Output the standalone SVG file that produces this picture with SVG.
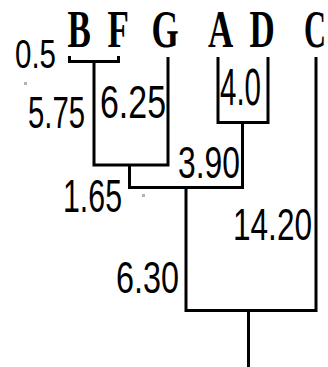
<svg xmlns="http://www.w3.org/2000/svg" width="328" height="367" viewBox="0 0 328 367">
  <style>
    .leaf { font-family: "Liberation Serif", "Times New Roman", serif; font-weight: bold; font-size: 35px; fill: #000; }
    .len { font-family: "Liberation Sans", Arial, sans-serif; font-size: 30px; fill: #000; }
    .edge { fill: none; stroke: #000; stroke-width: 3; stroke-linejoin: miter; stroke-linecap: butt; }
    .speck { fill: #b4b4ac; }
  </style>
  <rect width="328" height="367" fill="#fff"/>

  <!-- branches of the tree -->
  <g id="connectors">
    <path class="edge" d="M69.5,56 V61.5 H118.5 V56"/>
    <path class="edge" d="M94,61.5 V165 H168 V57"/>
    <path class="edge" d="M218,57 V122.5 H268 V57"/>
    <path class="edge" d="M129.5,165 V187.5 H242.5 V122.5"/>
    <path class="edge" d="M186,187.5 V310.5 H316 V57"/>
    <path class="edge" d="M248.5,310.5 V367"/>
  </g>

  <!-- leaves -->
  <g id="leaf-B"><text class="leaf" transform="translate(67.5,47) scale(1,1.5)">B</text></g>
  <g id="leaf-F"><text class="leaf" transform="translate(107.5,47) scale(1,1.5)">F</text></g>
  <g id="leaf-G"><text class="leaf" transform="translate(151.5,47) scale(1,1.5)">G</text></g>
  <g id="leaf-A"><text class="leaf" transform="translate(208,47) scale(1,1.5)">A</text></g>
  <g id="leaf-D"><text class="leaf" transform="translate(249.5,47) scale(1,1.5)">D</text></g>
  <g id="leaf-C"><text class="leaf" transform="translate(304,47) scale(1,1.5)" textLength="22" lengthAdjust="spacingAndGlyphs">C</text></g>

  <!-- branch lengths -->
  <g id="len-BF"><text class="len" transform="translate(15,68) scale(1,1.35)" textLength="41" lengthAdjust="spacingAndGlyphs">0.5</text></g>
  <g id="len-B"><text class="len" transform="translate(28,128) scale(1,1.45)" textLength="57" lengthAdjust="spacingAndGlyphs">5.75</text></g>
  <g id="len-G"><text class="len" transform="translate(100,118) scale(1,1.55)" textLength="66" lengthAdjust="spacingAndGlyphs">6.25</text></g>
  <g id="len-AD"><text class="len" transform="translate(220,105) scale(1,1.7)" textLength="41" lengthAdjust="spacingAndGlyphs">4.0</text></g>
  <g id="len-ADup"><text class="len" transform="translate(178,178) scale(1,1.45)" textLength="62" lengthAdjust="spacingAndGlyphs">3.90</text></g>
  <g id="len-BFG"><text class="len" transform="translate(63,212) scale(1,1.55)" textLength="59" lengthAdjust="spacingAndGlyphs">1.65</text></g>
  <g id="len-C"><text class="len" transform="translate(233,240) scale(1,1.5)" textLength="79" lengthAdjust="spacingAndGlyphs">14.20</text></g>
  <g id="len-inner"><text class="len" transform="translate(116,293) scale(1,1.45)" textLength="63" lengthAdjust="spacingAndGlyphs">6.30</text></g>

  <rect class="speck" x="24" y="82" width="3" height="3"/>
  <rect class="speck" x="142" y="194" width="3" height="3"/>
</svg>
